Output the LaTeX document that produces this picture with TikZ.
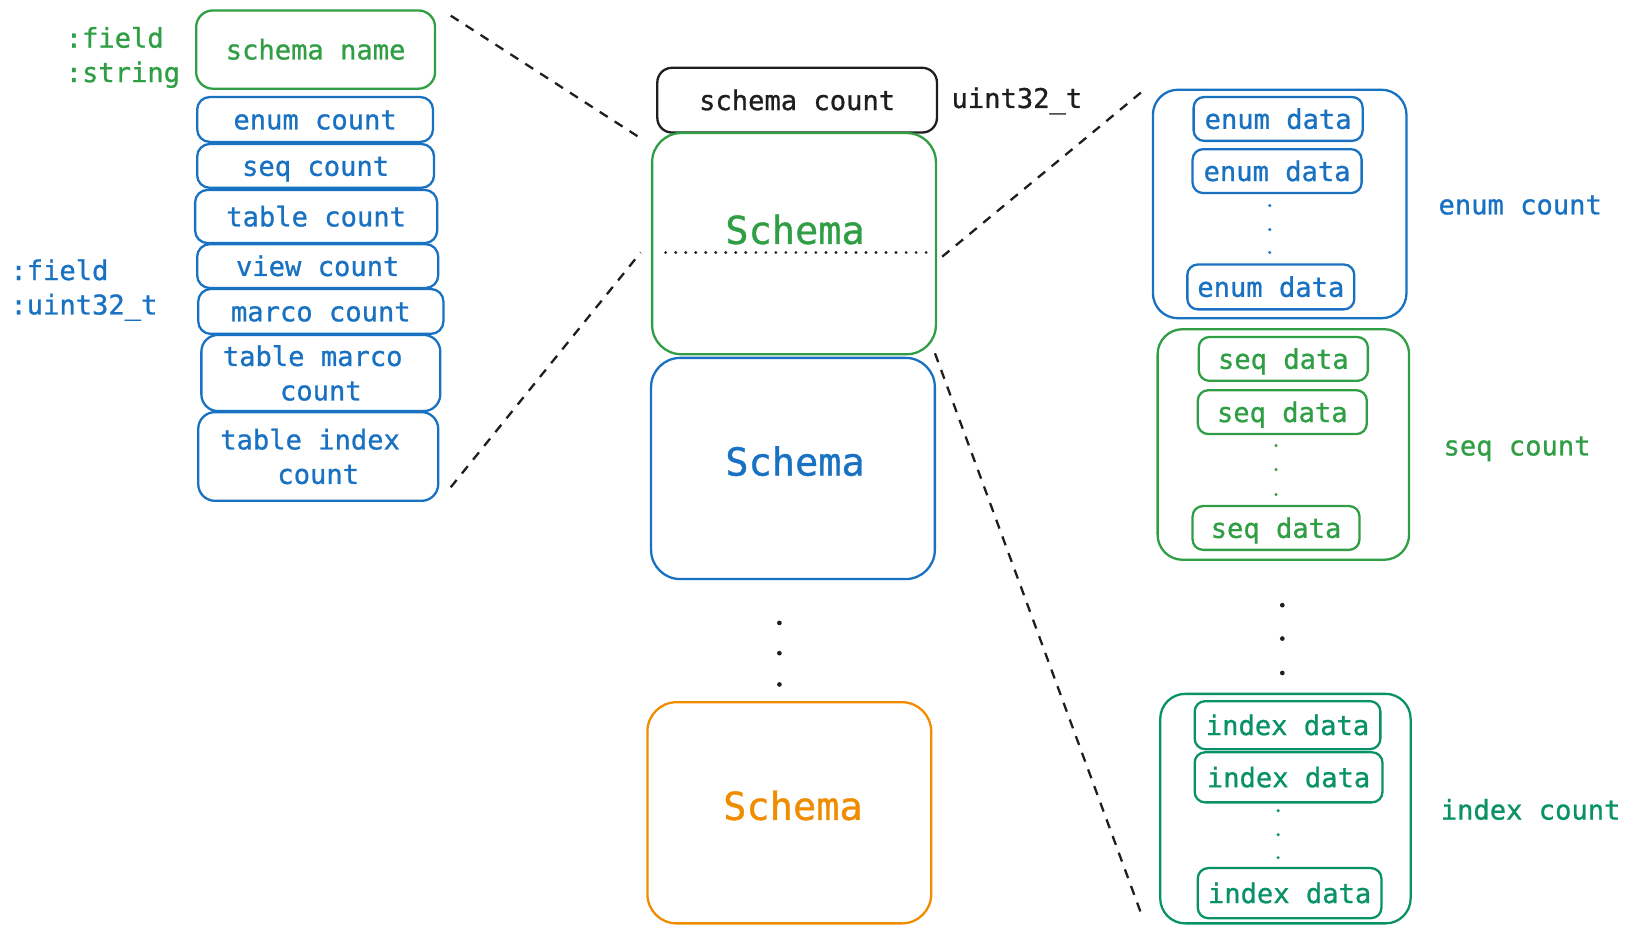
\documentclass[tikz,border=0pt]{standalone}
\usepackage{fontspec}
\newfontfamily\exfont{DejaVu Sans Mono}[FakeBold=0.9]
\definecolor{exgreen}{HTML}{2F9E44}
\definecolor{exblue}{HTML}{1971C2}
\definecolor{exorange}{HTML}{F08C00}
\definecolor{exteal}{HTML}{099268}
\definecolor{exblack}{HTML}{1E1E1E}
\tikzset{
  txt/.style = {inner sep=0pt, outer sep=0pt,
                font=\exfont\fontsize{26}{33}\selectfont,
                text height=21pt, text depth=2pt},
  bigtxt/.style = {inner sep=0pt, outer sep=0pt,
                font=\exfont\fontsize{37}{44}\selectfont},
  field/.style = {txt, draw, line width=2.2pt, rounded corners=12pt, align=center},
  size/.style 2 args = {minimum width=#1pt, minimum height=#2pt},
  schemabox/.style = {draw, line width=2.2pt, rounded corners=28pt,
                inner sep=0pt, size={272}{212}},
  outerbox/.style = {draw, line width=2.2pt, rounded corners=24pt, inner sep=0pt},
  databox/.style = {field, rounded corners=10pt},
  dashline/.style = {exblack, line width=2.2pt, dash pattern=on 9pt off 8pt},
  dotline/.style = {exblack, line width=3pt, line cap=round, dash pattern=on 0pt off 9.6pt},
  dot/.style = {circle, fill, minimum size=#1,
                inner sep=0pt, outer sep=0pt},
  dot/.default = 5pt
}
\begin{document}
\begin{tikzpicture}[x=1pt, y=-1pt]
	\useasboundingbox (0,0) rectangle (1568,895);

	% Field labels
	\node[txt, exgreen, align=left, anchor=west, text height=, text depth=] (fieldstr) at (63,55) {:field\\:string};
	\node[txt, exblue, align=left, anchor=west, text height=, text depth=] (fielduint) at (10,278) {:field\\:uint32\_t};

	% Schema fields
	\node[field, exgreen, rounded corners=16pt, size={229}{75}] (sname) at (302.5,47.5) {schema name};
	\node[field, exblue, size={226}{43}] (cenum)   at (302,114.5) {enum count};
	\node[field, exblue, size={227}{42}] (cseq)    at (302.5,159) {seq count};
	\node[field, exblue, size={232}{51}] (ctable)  at (303,207.5) {table count};
	\node[field, exblue, size={231}{42}] (cview)   at (304.5,255) {view count};
	\node[field, exblue, size={235}{43}] (cmarco)  at (307.5,298.5) {marco count};
	\node[field, exblue, rounded corners=16pt, size={229}{73}, text height=, text depth=] (ctmarco) at (307.5,357.5) {table marco\hspace*{0.6em}\\count};
	\node[field, exblue, rounded corners=16pt, size={230}{85}, text height=, text depth=] (ctindex) at (305,437.5) {table index\hspace*{0.6em}\\count};

	% Schema list
	\node[field, exblack, rounded corners=14pt, size={268}{62}] (scount) at (764,96) {schema count};
	\node[txt, exblack, anchor=west] (stype) at (912,94) {uint32\_t};

	\node[schemabox, exgreen] (schemaA) at (761,233.5) {};
	\node[bigtxt, exgreen] (titleA) at (762,220) {Schema};
	\coordinate (dotL) at (638,242);
	\coordinate (dotR) at (888,242);
	\draw[dotline] (dotL) -- (dotR);

	\node[schemabox, exblue] (schemaB) at (760,449) {};
	\node[bigtxt, exblue] (titleB) at (762,442) {Schema};

	\node[dot=4.5pt, exblack] (mdot1) at (747,597) {};
	\node[dot=4.5pt, exblack] (mdot2) at (747,626) {};
	\node[dot=4.5pt, exblack] (mdot3) at (747,656) {};

	\node[schemabox, exorange] (schemaC) at (756.5,779) {};
	\node[bigtxt, exorange] (titleC) at (760,772) {Schema};

	% Enum data
	\node[outerbox, exblue, size={243}{219}] (enumbox) at (1226.5,195.5) {};
	\node[databox, exblue, size={162}{42}] (edata1) at (1225,114) {enum data};
	\node[databox, exblue, size={162}{42}] (edata2) at (1224,164) {enum data};
	\node[dot=3.2pt, exblue] (edot1) at (1217,197) {};
	\node[dot=3.2pt, exblue] (edot2) at (1217,220) {};
	\node[dot=3.2pt, exblue] (edot3) at (1217,242) {};
	\node[databox, exblue, size={160}{43}] (edata3) at (1218,275) {enum data};
	\node[txt, exblue] (enumcnt) at (1457,196) {enum count};

	% Seq data
	\node[outerbox, exgreen, size={241}{221}] (seqbox) at (1230,426) {};
	\node[databox, exgreen, size={162}{42}] (sdata1) at (1230,344) {seq data};
	\node[databox, exgreen, size={162}{42}] (sdata2) at (1229,395) {seq data};
	\node[dot=3.2pt, exgreen] (sdot1) at (1223,427) {};
	\node[dot=3.2pt, exgreen] (sdot2) at (1223,450) {};
	\node[dot=3.2pt, exgreen] (sdot3) at (1223,474) {};
	\node[databox, exgreen, size={160}{42}] (sdata3) at (1223,506) {seq data};
	\node[txt, exgreen] (seqcnt) at (1454,427) {seq count};

	\node[dot=4.5pt, exblack] (rdot1) at (1229,580) {};
	\node[dot=4.5pt, exblack] (rdot2) at (1229,612) {};
	\node[dot=4.5pt, exblack] (rdot3) at (1229,645) {};

	% Index data
	\node[outerbox, exteal, size={240}{220}] (idxbox) at (1232,775) {};
	\node[databox, exteal, size={178}{46}] (idata1) at (1234,695) {index data};
	\node[databox, exteal, size={180}{48}] (idata2) at (1235,745) {index data};
	\node[dot=3.2pt, exteal] (idot1) at (1225,777) {};
	\node[dot=3.2pt, exteal] (idot2) at (1225,800) {};
	\node[dot=3.2pt, exteal] (idot3) at (1225,822) {};
	\node[databox, exteal, size={176}{48}] (idata3) at (1236,856) {index data};
	\node[txt, exteal] (idxcnt) at (1467,776) {index count};

	% Zoom lines
	\draw[dashline] ([shift={(15,5)}]sname.north east) -- ([shift={(-10,6)}]schemaA.north west);
	\draw[dashline] ([shift={(12,-13)}]ctindex.south east) -- ([shift={(-24,0)}]dotL);
	\draw[dashline] ([shift={(15,4)}]dotR) -- ([shift={(-7,1)}]enumbox.north west);
	\draw[dashline] ([shift={(-2,-2)}]schemaA.south east) -- ([shift={(-17,-10)}]idxbox.south west);
\end{tikzpicture}
\end{document}
